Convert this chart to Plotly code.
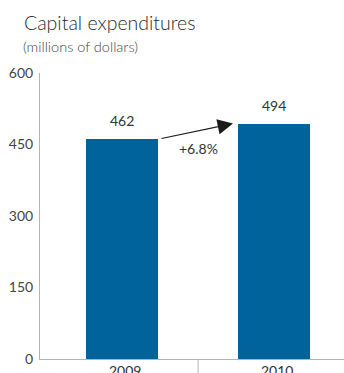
import plotly.graph_objects as go

years = ["2009", "2010"]
capex = [462, 494]
change_label = "+6.8%"
y_ticks = [0, 150, 300, 450, 600]

BAR = "#00639C"
TXT = "#333333"
AX = "#b3b3b3"
FONT = "Lato, 'Open Sans', sans-serif"

PLOT_W = 304
PLOT_H = 286

fig = go.Figure()
fig.add_trace(go.Bar(
    x=[0, 1], y=capex, width=0.47, marker=dict(color=BAR, line=dict(width=0)),
    hoverinfo="skip", showlegend=False,
))

annotations = []
for i, v in enumerate(capex):
    annotations.append(dict(x=i, y=v, xref="x", yref="y", text=str(v), showarrow=False,
                            yanchor="bottom", yshift=8, font=dict(size=14, color=TXT, family=FONT)))
# growth arrow
annotations.append(dict(x=0.73, y=capex[1], ax=0.25, ay=capex[0], xref="x", yref="y",
                        axref="x", ayref="y", text="", showarrow=True, arrowhead=2,
                        arrowsize=2.8, arrowwidth=1.1, arrowcolor="#1a1a1a", standoff=0, startstandoff=0))
annotations.append(dict(x=0.5, y=capex[0], xref="x", yref="y", text=change_label, showarrow=False,
                        yanchor="top", yshift=1, font=dict(size=14, color=TXT, family=FONT)))
# x category labels
for i, yr in enumerate(years):
    annotations.append(dict(x=i + 0.02, y=0, xref="x", yref="paper", text=yr, showarrow=False,
                            yanchor="top", yshift=-1, font=dict(size=14, color=TXT, family=FONT)))
# titles
annotations.append(dict(x=-18 / PLOT_W, y=1 + 64 / PLOT_H, xref="paper", yref="paper",
                        text="Capital expenditures", showarrow=False, xanchor="left", yanchor="top",
                        font=dict(size=19.5, color="#2a2a2a", family=FONT, weight=300)))
annotations.append(dict(x=-19 / PLOT_W, y=1 + 37 / PLOT_H, xref="paper", yref="paper",
                        text="(millions of dollars)", showarrow=False, xanchor="left", yanchor="top",
                        font=dict(size=14.5, color="#444444", family=FONT, weight=300)))

fig.update_layout(
    width=344, height=373,
    margin=dict(l=40, r=0, t=73, b=14, autoexpand=False),
    paper_bgcolor="white", plot_bgcolor="white",
    bargap=0,
    xaxis=dict(range=[-0.54, 1.46], showgrid=False, zeroline=False, showticklabels=False,
               ticks="", showline=True, linecolor=AX, linewidth=1, fixedrange=True),
    yaxis=dict(range=[0, 600], tickvals=y_ticks, showgrid=False, zeroline=False,
               showline=True, linecolor=AX, linewidth=1, ticks="", ticklabelstandoff=3,
               tickfont=dict(size=14, color="#444444", family=FONT), fixedrange=True),
    font=dict(family=FONT),
    showlegend=False,
    annotations=annotations,
)

# category divider below the axis
fig.add_shape(type="line", x0=0.5, x1=0.5, xref="x", y0=0, y1=-14 / PLOT_H, yref="paper",
              line=dict(color=AX, width=1))

fig.write_html("out.html")
